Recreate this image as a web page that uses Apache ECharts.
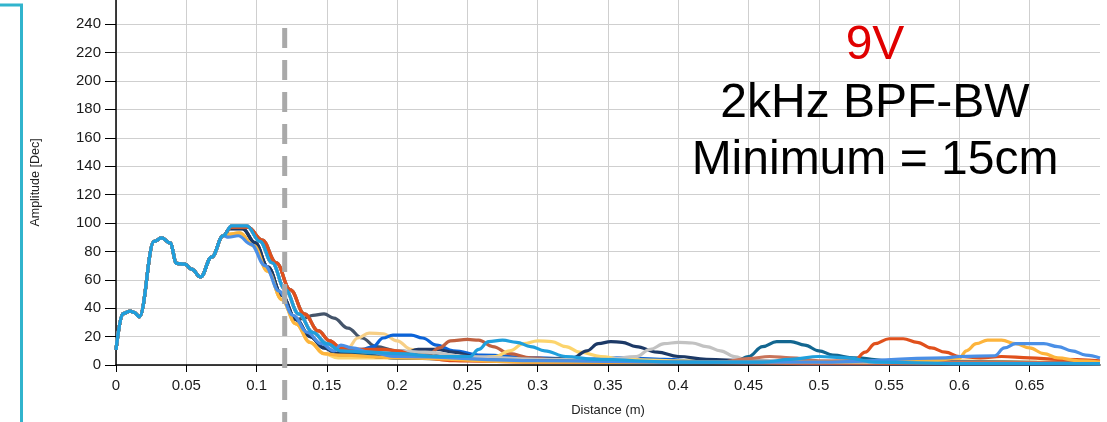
<!DOCTYPE html>
<html>
<head>
<meta charset="utf-8">
<script src="https://cdn.jsdelivr.net/npm/echarts@6/dist/echarts.min.js"></script>
<style>
html,body{margin:0;padding:0;background:#fff;}
#chart{width:1107px;height:422px;}
</style>
</head>
<body>
<div id="chart"></div>
<script>
// ---- Data ----
// Common start shared by every trace (distance in m, amplitude in Dec)
const headDist = [0, 0.0048, 0.01, 0.0128, 0.0166, 0.0271, 0.0325, 0.0384, 0.0432, 0.049, 0.0538, 0.0602, 0.068, 0.0763];
const headAmp  = [10.6, 36, 38, 37, 34, 87, 89.5, 86, 71.5, 71, 67.5, 62, 76, 91];

// Falling edges of the main echo (groups of traces)
const descentLate   = [[0.082,97],[0.094,97],[0.104,88],[0.114,72],[0.124,53],[0.134,36],[0.144,24],[0.152,17]];
const descentMain   = [[0.0823,98],[0.093,98],[0.1024,87],[0.111,72],[0.1202,53.5],[0.13,36],[0.14,23],[0.15,15]];
const descentEarly  = [[0.081,96],[0.09,96],[0.099,86],[0.108,69],[0.118,49],[0.128,32],[0.138,20],[0.148,12]];
const descentYellow = [[0.08,92],[0.088,93],[0.098,84],[0.108,66],[0.118,46],[0.128,29],[0.138,16],[0.148,8]];
const descentLow    = [[0.08,90],[0.087,91],[0.096,85],[0.106,70],[0.116,52],[0.126,35],[0.136,23],[0.146,15]];

// Remaining part of each trace
const slateTail = [[0.134,33],[0.14,35],[0.148,36],[0.155,33],[0.165,26],[0.175,19],[0.185,13],[0.2,10],[0.22,8],[0.25,5],[0.3,3],[0.4,2],[0.5,2],[0.6,1.5],[0.7,1]];
const paleYellowTail = [[0.158,6],[0.165,12],[0.172,19],[0.18,22.5],[0.19,22],[0.2,17],[0.21,11],[0.22,7],[0.24,4],[0.3,3],[0.4,2],[0.5,2],[0.6,2],[0.7,1]];
const blueTail = [[0.16,10],[0.175,11],[0.183,13],[0.19,19],[0.197,21],[0.21,21],[0.218,19],[0.228,14],[0.24,10],[0.26,7],[0.3,5],[0.33,4],[0.36,5],[0.39,4],[0.42,2],[0.5,1],[0.7,1]];
const navyTail = [[0.158,7],[0.17,6],[0.19,6],[0.205,8],[0.215,11],[0.228,11],[0.24,9],[0.255,6],[0.27,4],[0.3,3],[0.4,2],[0.5,1],[0.7,1]];
const brownTail = [[0.16,10],[0.18,8],[0.2,7],[0.222,7],[0.23,12],[0.238,17],[0.25,18],[0.258,17.5],[0.268,13],[0.28,8],[0.295,5],[0.32,3],[0.4,2],[0.5,1],[0.7,1]];
const yellowTail = [[0.158,5],[0.2,5],[0.25,4],[0.27,6],[0.28,10],[0.29,15],[0.3,17],[0.31,16.5],[0.32,13],[0.33,9],[0.345,6],[0.36,4],[0.4,3],[0.5,2],[0.55,3],[0.6,3],[0.65,2],[0.7,2]];
const darkNavyTail = [[0.158,8],[0.2,5],[0.25,4],[0.3,4],[0.325,5],[0.335,10],[0.343,15],[0.352,16.5],[0.36,16],[0.37,13],[0.385,9],[0.4,6],[0.42,4],[0.45,3],[0.5,2],[0.6,2],[0.7,1]];
const grayTail = [[0.16,11],[0.2,10],[0.22,9],[0.25,6],[0.3,4],[0.35,4],[0.37,6],[0.38,11],[0.39,15],[0.4,16],[0.41,15.5],[0.42,13],[0.43,10],[0.44,6],[0.45,3],[0.5,2],[0.7,1]];
const tealTail = [[0.16,10],[0.2,5],[0.3,3],[0.4,2],[0.44,2],[0.45,6],[0.46,13],[0.47,16.5],[0.48,16.5],[0.49,14],[0.5,10],[0.51,7],[0.525,5],[0.55,3],[0.6,2],[0.7,1]];
const terracottaTail = [[0.16,12],[0.18,9],[0.2,6],[0.25,3],[0.35,2],[0.43,2],[0.45,4.5],[0.465,6],[0.48,5],[0.5,3],[0.6,2],[0.7,1]];
const orangeRedTail = [[0.16,12],[0.175,11],[0.19,11],[0.2,10],[0.215,6],[0.24,3],[0.3,2],[0.4,2],[0.5,2],[0.525,3],[0.533,9],[0.54,15],[0.55,18.5],[0.56,18.5],[0.57,16],[0.58,12],[0.59,9],[0.6,6],[0.615,5],[0.63,6],[0.65,5],[0.67,4],[0.7,3]];
const amberTail = [[0.158,7],[0.2,5],[0.3,2],[0.5,2],[0.58,3],[0.6,5],[0.605,10],[0.612,15],[0.62,17.5],[0.63,17.5],[0.64,15],[0.65,12],[0.66,8],[0.67,5],[0.685,3],[0.7,2]];
const medBlueTail = [[0.155,10],[0.16,14],[0.168,12],[0.18,9],[0.2,6],[0.3,3],[0.4,2],[0.5,2],[0.59,5],[0.6,6],[0.625,6.5],[0.632,12],[0.64,15],[0.66,15],[0.67,13],[0.68,10],[0.69,7],[0.7,5]];
const lightBlueTail = [[0.16,10],[0.18,9],[0.2,8],[0.23,6],[0.252,6],[0.258,11],[0.265,16.5],[0.275,17.5],[0.285,16],[0.295,13],[0.305,10],[0.32,6],[0.34,4],[0.4,2],[0.46,2],[0.48,4],[0.5,6],[0.52,5],[0.54,2],[0.6,1],[0.7,1]];

// Trace definitions: [descent, tail], drawn in this order
const traceDescents = [descentEarly, descentYellow, descentMain, descentEarly, descentMain, descentYellow, descentEarly, descentMain, descentLate, descentLate, descentLate, descentYellow, descentLow, descentMain];
const traceTails = [slateTail, paleYellowTail, blueTail, navyTail, brownTail, yellowTail, darkNavyTail, grayTail, tealTail, terracottaTail, orangeRedTail, amberTail, medBlueTail, lightBlueTail];
const traceColors = ['#44546a','#f7cf86','#0b63d8','#223a66','#c0603f','#fcd46c','#1c3966','#c2c2c2','#126690','#c9745a','#e0501c','#fdb43c','#4a8fe6','#1f9fdc'];

const yTicks = [0,20,40,60,80,100,120,140,160,180,200,220,240];
const xTicks = [0,0.05,0.1,0.15,0.2,0.25,0.3,0.35,0.4,0.45,0.5,0.55,0.6,0.65];
const minimumLine = 0.12;

const head = headDist.map((d, i) => [d, headAmp[i]]);
const FONT = "'Liberation Sans', Arial, sans-serif";

const series = traceTails.map((tail, i) => ({
  type: 'line',
  data: head.concat(traceDescents[i].filter(p => p[0] < tail[0][0]), tail),
  showSymbol: false,
  symbol: 'none',
  smooth: 0.4,
  smoothMonotone: 'x',
  lineStyle: { color: traceColors[i], width: 3.2 },
  itemStyle: { color: traceColors[i] },
  z: 2
}));

const chart = echarts.init(document.getElementById('chart'));
chart.setOption({
  animation: false,
  backgroundColor: '#fff',
  grid: { left: 116, right: 7, top: -2, bottom: 55 },
  xAxis: {
    type: 'value', min: 0, max: 0.7, interval: 0.05,
    name: 'Distance (m)', nameLocation: 'middle', nameGap: 39,
    nameTextStyle: { fontFamily: FONT, fontSize: 13, color: '#222' },
    axisLine: { show: true, onZero: false, lineStyle: { color: '#000', width: 1.5 } },
    axisTick: { show: true, length: 7, lineStyle: { color: '#000', width: 1 } },
    axisLabel: {
      margin: 13, fontFamily: FONT, fontSize: 15, color: '#1a1a1a', showMaxLabel: false,
      formatter: v => { const t = xTicks.find(x => Math.abs(x - v) < 1e-9); return t === undefined ? '' : String(t); }
    },
    splitLine: { show: true, showMaxLine: false, lineStyle: { color: '#cfcfcf', width: 1 } }
  },
  yAxis: {
    type: 'value', min: 0, max: 257, interval: 20,
    name: 'Amplitude [Dec]', nameLocation: 'middle', nameGap: 74,
    nameTextStyle: { fontFamily: FONT, fontSize: 12.5, color: '#222' },
    axisLine: { show: true, lineStyle: { color: '#000', width: 1.5 } },
    axisTick: { show: true, length: 11, lineStyle: { color: '#000', width: 1 } },
    axisLabel: {
      margin: 15, fontFamily: FONT, fontSize: 15, color: '#1a1a1a', showMaxLabel: false,
      formatter: v => (yTicks.indexOf(v) >= 0 ? String(v) : '')
    },
    splitLine: { show: true, showMaxLine: false, lineStyle: { color: '#cfcfcf', width: 1 } }
  },
  series: series
});

const dashX = chart.convertToPixel({ xAxisIndex: 0 }, minimumLine);
chart.setOption({
  graphic: [
    { type: 'line', z: 10, shape: { x1: dashX, y1: 28, x2: dashX, y2: 422 },
      style: { stroke: '#a9a9a9', lineWidth: 5, lineDash: [20, 12] } },
    { type: 'polyline', z: 10, shape: { points: [[0, 5], [21.5, 5], [21.5, 422]] },
      style: { stroke: '#31b4cd', lineWidth: 3, fill: null } },
    { type: 'text', z: 10, x: 875, y: 46,
      style: { text: '9V', fill: '#e00000', font: "48px " + FONT, align: 'center', verticalAlign: 'middle' } },
    { type: 'text', z: 10, x: 875, y: 104,
      style: { text: '2kHz BPF-BW', fill: '#000', font: "48px " + FONT, align: 'center', verticalAlign: 'middle' } },
    { type: 'text', z: 10, x: 875, y: 161,
      style: { text: 'Minimum = 15cm', fill: '#000', font: "48px " + FONT, align: 'center', verticalAlign: 'middle' } }
  ]
});
</script>
</body>
</html>
